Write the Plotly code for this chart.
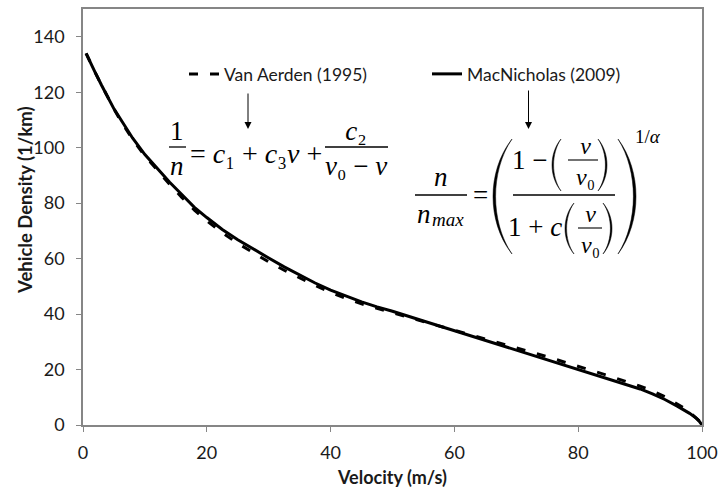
import plotly.graph_objects as go

# ---------------- data ----------------
velocity = [0.5, 1, 2, 3, 4, 5, 6, 8, 10, 12, 14, 16, 18, 20, 22.5, 25, 27.5, 30,
            32.5, 35, 37.5, 40, 42.5, 45, 47.5, 50, 55, 60, 65, 70, 75, 80, 85,
            90, 92, 94, 96, 97, 98, 99, 99.5, 100]

van_aerden = [134, 131.5, 127, 122.5, 118, 114, 110, 103, 97, 91.8, 86.8, 82,
              77.5, 73.6, 69.3, 65.5, 62, 58.8, 55.8, 53, 50.3, 47.8, 45.6, 43.7,
              42, 40.5, 37.3, 34.2, 31, 27.8, 24.6, 21.2, 17.7, 14, 12.3, 10.2,
              7.6, 6.2, 4.6, 2.8, 1.6, 0]

macnicholas = [134, 131.5, 127, 122.5, 118, 114, 110.5, 103.5, 97.5, 92.5, 87.5,
               83, 78.5, 74.8, 70.5, 66.8, 63.4, 60.2, 57, 54, 51.2, 48.6, 46.4,
               44.4, 42.6, 41, 37.5, 34, 30.5, 27, 23.7, 20.2, 16.7, 13, 11.2, 9.2,
               6.8, 5.6, 4.2, 2.6, 1.5, 0]

series_names = ["Van Aerden (1995)", "MacNicholas (2009)"]
x_ticks = [0, 20, 40, 60, 80, 100]
y_ticks = [0, 20, 40, 60, 80, 100, 120, 140]
x_title = "Velocity (m/s)"
y_title = "Vehicle Density (1/km)"

# ---------------- layout helpers ----------------
W_IMG, H_IMG = 723, 488
L, R, T, B = 83, 702, 9, 425
PW, PH = R - L, B - T


def px(x):
    return (x - L) / PW


def py(y):
    return (B - y) / PH


TXT = "#1a1a1a"
AX = "#868686"
SANS = "Lato"
SERIF = "Liberation Serif"
EQ = 27

fig = go.Figure()
fig.add_trace(go.Scatter(x=velocity, y=van_aerden, mode="lines", name=series_names[0],
                         line=dict(color="black", width=3, dash="9px,12px"),
                         legend="legend", showlegend=True))
fig.add_trace(go.Scatter(x=velocity, y=macnicholas, mode="lines", name=series_names[1],
                         line=dict(color="black", width=3),
                         legend="legend2", showlegend=True))

annotations = []
shapes = []


def text(s, x, y, size=EQ, anchor="center", font=SERIF):
    annotations.append(dict(text=s, x=px(x), y=py(y), xref="paper", yref="paper",
                            xanchor=anchor, yanchor="middle", showarrow=False,
                            borderpad=0, align="center",
                            font=dict(family=font, size=size, color="black")))


def bar(x0, x1, y, w=1.3):
    shapes.append(dict(type="line", xref="paper", yref="paper", x0=px(x0), x1=px(x1),
                       y0=py(y), y1=py(y), line=dict(color="black", width=w)))


def frac(num, den, x, ybar, x0, x1, size=EQ, w=1.3):
    # numerator and denominator as one two-line text, centred on the fraction bar
    text(f"{num}<br>{den}", x, ybar + 1, size=size)
    bar(x0, x1, ybar, w)


def paren(xl, xr, yt, yb, side, thick):
    h = yb - yt
    if side == "left":
        xe, xb, xbi = xr, xl, xl + thick
    else:
        xe, xb, xbi = xl, xr, xr - thick
    c1 = (xb - 0.25 * xe) / 0.75
    c2 = (xbi - 0.25 * xe) / 0.75
    p = (f"M {px(xe)},{py(yt)} C {px(c1)},{py(yt + 0.28 * h)} {px(c1)},{py(yb - 0.28 * h)} {px(xe)},{py(yb)} "
         f"C {px(c2)},{py(yb - 0.28 * h)} {px(c2)},{py(yt + 0.28 * h)} {px(xe)},{py(yt)} Z")
    shapes.append(dict(type="path", xref="paper", yref="paper", path=p,
                       fillcolor="black", line=dict(color="black", width=0.5)))


# ---- equation 1 (Van Aerden) ----
frac("1", "<i>n</i>", 177, 147, 169, 186)
text("= <i>c</i>₁ + <i>c</i>₃<i>v</i> +", 189, 153, size=28, anchor="left")
frac("<i>c</i>₂", "<i>v</i>₀ − <i>v</i>", 356, 147, 325, 388)

# ---- equation 2 (MacNicholas) ----
text("<i>n</i>", 441, 177)
bar(415, 467, 195)
text("<i>n</i>", 424, 214)
text("<i>max</i>", 448, 219, size=19)
text("=", 480, 195)
paren(493, 512, 139, 254, "left", 2.6)
text("1 −", 548, 160, anchor="right")
paren(552, 561, 139, 191, "left", 1.6)
frac("<i>v</i>", "<i>v</i>₀", 585, 160, 568, 598, size=24, w=1.1)
paren(598, 607, 139, 191, "right", 1.6)
bar(513, 615, 195)
text("1 + <i>c</i>", 563, 227, anchor="right")
paren(565, 574, 203, 254, "left", 1.6)
frac("<i>v</i>", "<i>v</i>₀", 590, 228, 578, 602, size=24, w=1.1)
paren(603, 612, 203, 254, "right", 1.6)
paren(618, 636, 139, 254, "right", 2.6)
text("1/<i>α</i>", 648, 136, size=19)

# ---- arrows from legend entries to equations ----
for (xt, ytip, ytail) in [(248, 129, 92), (528.5, 129, 89)]:
    annotations.append(dict(text="", x=px(xt), y=py(ytip), xref="paper", yref="paper",
                            showarrow=True, ax=0, ay=-(ytip - ytail), arrowhead=2,
                            arrowsize=1.4, arrowwidth=1, arrowcolor="black", standoff=0))

# ---- y axis title ----
annotations.append(dict(text=f"<b>{y_title}</b>", x=px(25), y=py(200), xref="paper",
                        yref="paper", textangle=-90, showarrow=False,
                        xanchor="center", yanchor="middle",
                        font=dict(family=SANS, size=18.5, color=TXT)))

fig.update_layout(
    width=W_IMG, height=H_IMG,
    margin=dict(l=L, r=W_IMG - R, t=T, b=H_IMG - B, autoexpand=False),
    paper_bgcolor="white", plot_bgcolor="white",
    font=dict(family=SANS, size=16, color=TXT),
    showlegend=True,
    annotations=annotations, shapes=shapes,
    legend=dict(x=px(184), y=py(74), xanchor="left", yanchor="middle",
                bgcolor="rgba(0,0,0,0)", font=dict(family=SANS, size=17.5, color=TXT)),
    legend2=dict(x=px(427), y=py(74), xanchor="left", yanchor="middle",
                 bgcolor="rgba(0,0,0,0)", font=dict(family=SANS, size=17.5, color=TXT)),
    xaxis=dict(range=[0, 100], tickvals=x_ticks, ticks="outside", ticklen=5,
               tickcolor=AX, showline=True, linecolor=AX, linewidth=1.5, mirror=True,
               showgrid=False, zeroline=False, ticklabelstandoff=6, automargin=False,
               tickfont=dict(family=SANS, size=18, color=TXT),
               title=dict(text=f"<b>{x_title}</b>", standoff=9,
                          font=dict(family=SANS, size=18, color=TXT))),
    yaxis=dict(range=[0, 150], tickvals=y_ticks, ticks="outside", ticklen=5,
               tickcolor=AX, showline=True, linecolor=AX, linewidth=1.5, mirror=True,
               showgrid=False, zeroline=False, ticklabelstandoff=8, automargin=False,
               tickfont=dict(family=SANS, size=18, color=TXT)),
)

fig.write_html("out.html")
